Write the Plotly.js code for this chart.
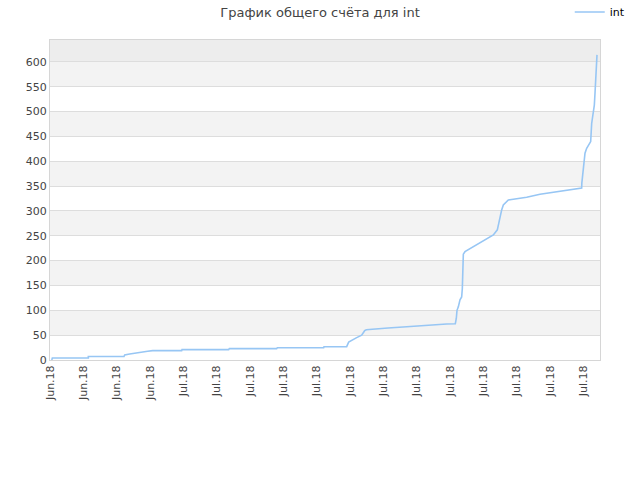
<!DOCTYPE html>
<html>
<head>
<meta charset="utf-8">
<script src="https://cdn.plot.ly/plotly-3.0.1.min.js"></script>
<style>html,body{margin:0;padding:0;background:#fff}#chart{width:640px;height:480px}</style>
</head>
<body>
<div id="chart"></div>
<script>
// Tick labels (one per tick position)
const tickLabels = ["Jun.18","Jun.18","Jun.18","Jun.18","Jul.18","Jul.18","Jul.18","Jul.18","Jul.18","Jul.18","Jul.18","Jul.18","Jul.18","Jul.18","Jul.18","Jul.18","Jul.18"];
const tickPositions = [0,1,2,3,4,5,6,7,8,9,10,11,12,13,14,15,16];

// Series "int": time position (in tick units) and cumulative score
const seriesX = [0.054,0.07,1.15,1.15,2.22,2.24,2.39,2.63,2.93,3.08,3.95,3.96,5.36,5.38,6.80,6.82,8.21,8.22,8.90,8.96,9.05,9.20,9.35,9.44,9.49,9.69,10.14,10.59,11.05,11.50,11.90,12.16,12.19,12.21,12.25,12.30,12.35,12.37,12.375,12.38,12.40,12.45,12.70,13.00,13.30,13.42,13.45,13.48,13.52,13.55,13.60,13.65,13.70,13.75,13.90,14.30,14.70,15.10,15.50,15.90,15.95,15.955,15.98,16.01,16.05,16.10,16.15,16.22,16.25,16.30,16.33,16.35,16.38,16.40,16.41];
const seriesY = [0,4,4,7,7,10,12,15,17.5,18.8,18.8,20.8,20.8,22.8,22.8,24.8,24.8,26.8,26.8,36,40,45,50,59,61,62.4,64.4,66.4,69,71,72.5,73,84,100,107,121,127,144,154,194,213,218,228,240,251.7,262,272,282,292,302,312,316,320,322,323.5,327.5,333.5,337.5,342,345,346,356,376,399,416,426,433,439.5,476,496,513,537,570,590,614];

// Alternating background bands (value ranges)
const bandStarts = [50,150,250,350,450,550,600];
const bandEnds   = [100,200,300,400,500,600,700];

const yMax = 644;
const shapes = bandStarts.map((s, i) => ({
  type: 'rect', xref: 'paper', yref: 'y', x0: 0, x1: 1,
  y0: s, y1: Math.min(bandEnds[i], yMax),
  fillcolor: s >= 600 ? '#ededed' : '#f3f3f3', line: {width: 0}, layer: 'below'
}));

const trace = {
  x: seriesX, y: seriesY, type: 'scatter', mode: 'lines', name: 'int',
  line: {color: '#97c6f4', width: 1.6}
};

const layout = {
  width: 640, height: 480,
  margin: {l: 50, r: 40, t: 40, b: 120, autoexpand: false},
  paper_bgcolor: '#ffffff', plot_bgcolor: '#ffffff',
  font: {family: 'DejaVu Sans, sans-serif', size: 11, color: '#444'},
  title: {text: 'График общего счёта для int', x: 0.5, xref: 'container', xanchor: 'center', y: 0.975, yanchor: 'middle',
          font: {family: 'DejaVu Sans, sans-serif', size: 13, color: '#444'}},
  showlegend: true,
  legend: {x: 0.945, xanchor: 'left', y: 1.0875, yanchor: 'middle', xref: 'paper',
           font: {size: 11, color: '#000'}, bgcolor: 'rgba(0,0,0,0)', itemwidth: 30, tracegroupgap: 0},
  xaxis: {
    range: [0, 16.5], tickmode: 'array', tickvals: tickPositions, ticktext: tickLabels,
    tickangle: -90, showgrid: false, zeroline: false,
    showline: true, linecolor: '#d6d6d6', linewidth: 1, mirror: true,
    ticks: '', tickfont: {size: 11, color: '#444'}
  },
  yaxis: {
    range: [0, yMax], dtick: 50, tick0: 0, showgrid: true, gridcolor: '#dddddd', gridwidth: 1,
    zeroline: false, showline: true, linecolor: '#d6d6d6', linewidth: 1, mirror: true,
    ticks: '', tickfont: {size: 11, color: '#444'}
  },
  shapes: shapes
};

Plotly.newPlot('chart', [trace], layout, {displayModeBar: false, staticPlot: true});
</script>
</body>
</html>
